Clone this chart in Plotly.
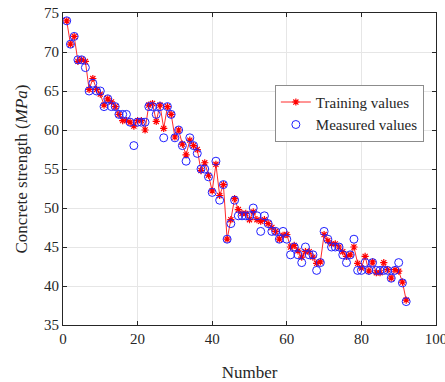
import plotly.graph_objects as go

number = list(range(1, 93))
measured = [74, 71, 72, 69, 69, 68, 65, 66, 65, 65,
            63, 64, 63, 63, 62, 62, 62, 61, 58, 61,
            61, 61, 63, 63, 62, 63, 59, 63, 62, 59,
            60, 58, 56, 59, 58, 57, 55, 55, 54, 52,
            56, 51, 53, 46, 48, 51, 49, 49, 49, 49,
            50, 49, 47, 49, 48, 47, 47, 46, 47, 46,
            44, 45, 44, 43, 45, 44, 44, 42, 43, 47,
            46, 45, 45, 45, 44, 43, 44, 46, 42, 42,
            43, 42, 43, 42, 42, 42, 42, 41, 42, 43,
            40.4, 38]
training = [74, 71, 72, 68.8, 69, 68.8, 65.2, 66.6, 65.2, 64.6,
            63.2, 64, 63.6, 63, 62, 61.2, 61.2, 61, 60.5, 61.2,
            61.2, 60, 63.2, 63.4, 61.1, 63.2, 60.2, 63, 62, 59.1,
            60, 58.2, 56.8, 58.7, 58, 57.5, 54.8, 55.8, 54.2, 52.2,
            55.6, 51.6, 53, 46, 48.5, 51.2, 49.8, 49.3, 49.3, 48.5,
            49.5, 48.5, 48.3, 48.5, 48, 47.5, 47, 46, 46.5, 46.6,
            45, 45.2, 44.5, 43.7, 44.4, 44.4, 43.7, 42.9, 43.1, 46.6,
            45.8, 45.4, 45.4, 45, 44.4, 43.8, 44, 45, 42.9, 42.3,
            43.8, 41.9, 43.1, 41.7, 41.7, 43, 42.1, 41, 42.1, 41.9,
            40.5, 38.2]
x_ticks = [0, 20, 40, 60, 80, 100]
y_ticks = [35, 40, 45, 50, 55, 60, 65, 70, 75]

serif = "'Times New Roman', 'Liberation Serif', 'DejaVu Serif', serif"

fig = go.Figure()
fig.add_trace(go.Scatter(
    x=number, y=training, mode="lines+markers", name="Training values",
    line=dict(color="#ff2a2a", width=1),
    marker=dict(symbol="asterisk-open", size=6, color="#ff0000",
                line=dict(color="#ff0000", width=1.2)),
))
fig.add_trace(go.Scatter(
    x=number, y=measured, mode="markers", name="Measured values",
    marker=dict(symbol="circle-open", size=8, color="#2020ff",
                line=dict(color="#2020ff", width=1)),
))

axis_common = dict(
    showgrid=True, gridcolor="#e6e6e6", gridwidth=1,
    showline=True, linecolor="#262626", linewidth=1, mirror="allticks",
    ticks="inside", ticklen=4, tickcolor="#262626",
    tickfont=dict(family=serif, size=15, color="#262626"),
    zeroline=False, automargin=False,
)
fig.update_xaxes(range=[0, 100], tickvals=x_ticks, ticklabeloverflow="allow",
                 **axis_common,
                 title=dict(text="Number", font=dict(family=serif, size=17, color="#262626"),
                            standoff=28))
fig.update_yaxes(range=[35, 75], tickvals=y_ticks, **axis_common,
                 title=dict(text="Concrete strength (<i>MPa</i>)",
                            font=dict(family=serif, size=17, color="#262626"),
                            standoff=12))

fig.update_layout(
    width=445, height=382,
    margin=dict(l=63, r=9, t=13, b=57),
    plot_bgcolor="white", paper_bgcolor="white",
    font=dict(family=serif),
    showlegend=True,
    legend=dict(x=0.568, y=0.77, xanchor="left", yanchor="top",
                bgcolor="white", bordercolor="#8c8c8c", borderwidth=1,
                font=dict(family=serif, size=15, color="#262626"),
                tracegroupgap=0, itemwidth=30),
)

fig.write_html("out.html")
